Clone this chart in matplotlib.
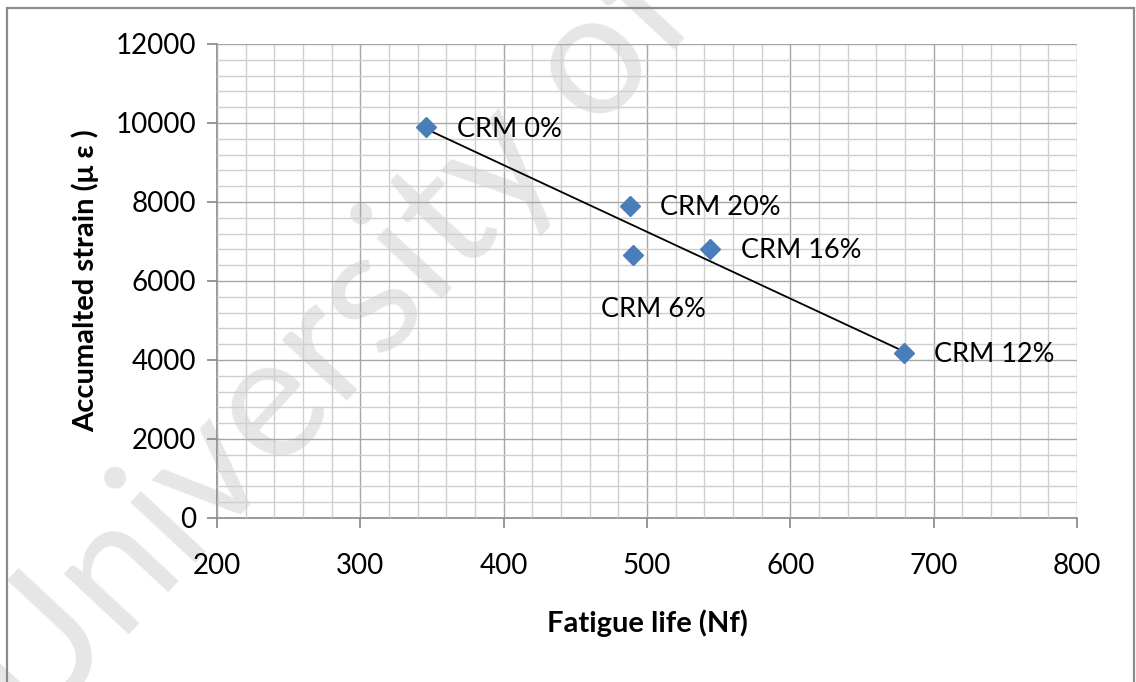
import matplotlib
matplotlib.use("Agg")
import matplotlib.pyplot as plt
import numpy as np
from matplotlib.patches import Rectangle
from matplotlib.ticker import MultipleLocator

plt.rcParams["font.family"] = ["Lato", "DejaVu Sans"]

# values
labels = ["CRM 0%", "CRM 20%", "CRM 6%", "CRM 16%", "CRM 12%"]
fatigue_life = [346, 488, 490, 544, 679]
strain = [9900, 7900, 6650, 6800, 4180]

x_ticks = [200, 300, 400, 500, 600, 700, 800]
y_ticks = [0, 2000, 4000, 6000, 8000, 10000, 12000]

# label offsets in points (dx, dy)
label_offsets = {
    "CRM 0%": (22, -2),
    "CRM 20%": (22, -1),
    "CRM 6%": (-23, -39),
    "CRM 16%": (22, -1),
    "CRM 12%": (22, -1),
}

fig = plt.figure(figsize=(11.36, 6.82), dpi=100)
ax = fig.add_axes([0.191, 0.2405, 0.757, 0.695])

# outer chart frame
fig.patches.append(Rectangle((0.0062, -0.05), 0.992, 1.038,
                             transform=fig.transFigure, fill=False,
                             edgecolor="#8c8c8c", linewidth=1.6))

ax.set_xlim(200, 800)
ax.set_ylim(0, 12000)
ax.set_xticks(x_ticks)
ax.set_yticks(y_ticks)
ax.xaxis.set_minor_locator(MultipleLocator(20))
ax.yaxis.set_minor_locator(MultipleLocator(400))

ax.grid(which="major", color="#a6a6a6", linewidth=1.0)
ax.grid(which="minor", color="#cfcfcf", linewidth=1.0)
# axis (grid + tick labels) stays above the watermark
ax.set_axisbelow(False)

for side in ["top", "right"]:
    ax.spines[side].set_visible(False)
for side in ["left", "bottom"]:
    ax.spines[side].set_color("#868686")
    ax.spines[side].set_linewidth(1.2)

ax.tick_params(which="major", direction="out", length=7, width=1.2,
               color="#868686", labelsize=20, labelcolor="#000000", pad=8)
ax.tick_params(which="minor", length=0)
ax.tick_params(axis="x", pad=18)

# linear trendline
coeffs = np.polyfit(fatigue_life, strain, 1)
trend_x = np.array([min(fatigue_life), max(fatigue_life)])
ax.plot(trend_x, np.polyval(coeffs, trend_x), color="black",
        linewidth=1.3, zorder=3)

ax.plot(fatigue_life, strain, linestyle="none", marker="D",
        markersize=10, color="#4a7ebb", zorder=4)

for name, x, y in zip(labels, fatigue_life, strain):
    ax.annotate(name, (x, y), xytext=label_offsets[name],
                textcoords="offset points", ha="left", va="center",
                fontsize=19.5, zorder=5)

ax.set_xlabel("Fatigue life (Nf)", fontsize=21, fontweight="bold",
              labelpad=22)
ax.set_ylabel("Accumalted strain (\u03bc \u03b5 )", fontsize=21,
              fontweight="bold", labelpad=12)

# watermark
ax.text(0.03, -0.08, "University of M", transform=fig.transFigure,
        fontsize=125, color="#e6e6e6", rotation=47,
        rotation_mode="anchor", ha="left", va="baseline",
        clip_on=False, zorder=0.7)

fig.savefig("out.png", dpi=100)
